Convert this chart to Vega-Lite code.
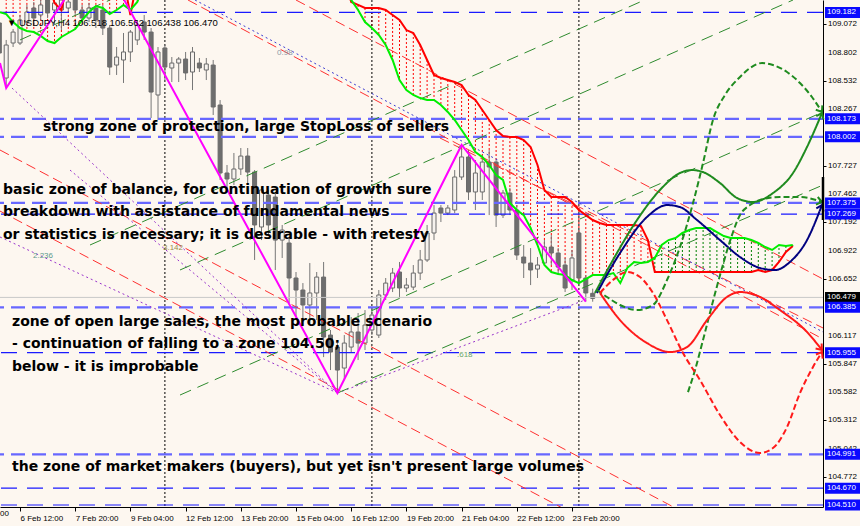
{
"$schema": "https://vega.github.io/schema/vega-lite/v6.json",
"width": 823, "height": 507,
"autosize": {"type": "none"},
"padding": {"left": 0, "top": 0, "right": 37, "bottom": 19},
"background": "#fdf7f0",
"config": {"view": {"stroke": null}, "axis": {"grid": false, "labelOverlap": false, "labelSeparation": 0}, "scale": {"continuousPadding": 0}},
"resolve": {"scale": {"color": "independent", "strokeDash": "independent"}},
"datasets": {
"candles": [
{"i":-3,"o":109.082,"h":109.158,"l":108.731,"c":108.797},
{"i":-2,"o":108.560,"h":108.921,"l":108.465,"c":108.873},
{"i":-1,"o":108.892,"h":109.025,"l":108.854,"c":108.996},
{"i":0,"o":108.892,"h":109.158,"l":108.873,"c":109.110},
{"i":1,"o":109.091,"h":109.253,"l":109.063,"c":109.186},
{"i":2,"o":109.224,"h":109.281,"l":109.063,"c":109.129},
{"i":3,"o":109.158,"h":109.300,"l":109.110,"c":109.253},
{"i":4,"o":109.300,"h":109.347,"l":109.129,"c":109.177},
{"i":5,"o":109.205,"h":109.300,"l":109.063,"c":109.272},
{"i":6,"o":109.205,"h":109.330,"l":109.015,"c":109.300},
{"i":7,"o":109.224,"h":109.300,"l":109.186,"c":109.281},
{"i":8,"o":109.347,"h":109.375,"l":109.158,"c":109.205},
{"i":9,"o":109.205,"h":109.253,"l":109.063,"c":109.129},
{"i":10,"o":109.129,"h":109.272,"l":109.091,"c":109.224},
{"i":11,"o":109.224,"h":109.253,"l":109.034,"c":109.110},
{"i":12,"o":109.205,"h":109.253,"l":108.968,"c":109.034},
{"i":13,"o":109.034,"h":109.063,"l":108.589,"c":108.664},
{"i":14,"o":108.683,"h":108.854,"l":108.589,"c":108.759},
{"i":15,"o":108.731,"h":108.987,"l":108.513,"c":108.807},
{"i":16,"o":108.807,"h":109.015,"l":108.712,"c":108.996},
{"i":17,"o":108.921,"h":109.110,"l":108.873,"c":109.063},
{"i":18,"o":109.091,"h":109.158,"l":108.921,"c":108.996},
{"i":19,"o":108.996,"h":109.034,"l":108.181,"c":108.427},
{"i":20,"o":108.399,"h":108.854,"l":108.162,"c":108.807},
{"i":21,"o":108.845,"h":108.873,"l":108.541,"c":108.664},
{"i":22,"o":108.655,"h":108.759,"l":108.522,"c":108.702},
{"i":23,"o":108.702,"h":108.759,"l":108.522,"c":108.740},
{"i":24,"o":108.740,"h":108.807,"l":108.541,"c":108.608},
{"i":25,"o":108.617,"h":108.854,"l":108.446,"c":108.807},
{"i":26,"o":108.702,"h":108.750,"l":108.617,"c":108.655},
{"i":27,"o":108.636,"h":108.750,"l":108.541,"c":108.693},
{"i":28,"o":108.683,"h":108.731,"l":108.209,"c":108.285},
{"i":29,"o":108.304,"h":108.351,"l":107.593,"c":107.659},
{"i":30,"o":107.659,"h":107.735,"l":107.498,"c":107.602},
{"i":31,"o":107.602,"h":107.849,"l":107.545,"c":107.697},
{"i":32,"o":107.697,"h":107.896,"l":107.640,"c":107.820},
{"i":33,"o":107.820,"h":107.896,"l":107.545,"c":107.668},
{"i":34,"o":107.668,"h":107.687,"l":106.834,"c":107.166},
{"i":35,"o":107.147,"h":107.526,"l":107.023,"c":107.498},
{"i":36,"o":107.450,"h":107.498,"l":107.071,"c":107.166},
{"i":37,"o":107.431,"h":107.479,"l":106.739,"c":107.023},
{"i":38,"o":107.023,"h":107.166,"l":106.853,"c":107.118},
{"i":39,"o":106.995,"h":107.042,"l":106.426,"c":106.663},
{"i":40,"o":106.663,"h":106.720,"l":106.302,"c":106.549},
{"i":41,"o":106.549,"h":106.615,"l":106.264,"c":106.407},
{"i":42,"o":106.407,"h":106.805,"l":106.236,"c":106.521},
{"i":43,"o":106.521,"h":106.720,"l":106.264,"c":106.672},
{"i":44,"o":106.672,"h":106.815,"l":105.913,"c":106.103},
{"i":45,"o":106.122,"h":106.170,"l":105.790,"c":105.961},
{"i":46,"o":106.008,"h":106.046,"l":105.572,"c":105.790},
{"i":47,"o":105.809,"h":106.122,"l":105.695,"c":106.046},
{"i":48,"o":106.008,"h":106.293,"l":105.961,"c":106.151},
{"i":49,"o":106.151,"h":106.331,"l":105.885,"c":106.046},
{"i":50,"o":106.046,"h":106.359,"l":105.980,"c":106.217},
{"i":51,"o":106.170,"h":106.378,"l":106.122,"c":106.312},
{"i":52,"o":106.122,"h":106.549,"l":106.094,"c":106.502},
{"i":53,"o":106.502,"h":106.663,"l":106.454,"c":106.615},
{"i":54,"o":106.568,"h":106.758,"l":106.530,"c":106.710},
{"i":55,"o":106.720,"h":106.815,"l":106.473,"c":106.568},
{"i":56,"o":106.568,"h":106.663,"l":106.530,"c":106.596},
{"i":57,"o":106.577,"h":106.786,"l":106.549,"c":106.710},
{"i":58,"o":106.710,"h":106.929,"l":106.644,"c":106.834},
{"i":59,"o":106.834,"h":107.166,"l":106.815,"c":107.090},
{"i":60,"o":107.090,"h":107.355,"l":107.023,"c":107.279},
{"i":61,"o":107.327,"h":107.355,"l":107.194,"c":107.279},
{"i":62,"o":107.279,"h":107.355,"l":107.260,"c":107.327},
{"i":63,"o":107.308,"h":107.687,"l":107.279,"c":107.621},
{"i":64,"o":107.621,"h":107.925,"l":107.593,"c":107.811},
{"i":65,"o":107.811,"h":107.877,"l":107.403,"c":107.479},
{"i":66,"o":107.479,"h":107.782,"l":107.308,"c":107.659},
{"i":67,"o":107.479,"h":107.830,"l":107.403,"c":107.763},
{"i":68,"o":107.763,"h":107.877,"l":107.260,"c":107.716},
{"i":69,"o":107.763,"h":107.782,"l":107.147,"c":107.260},
{"i":70,"o":107.260,"h":107.498,"l":107.232,"c":107.469},
{"i":71,"o":107.469,"h":107.517,"l":107.260,"c":107.308},
{"i":72,"o":107.308,"h":107.355,"l":106.834,"c":106.881},
{"i":73,"o":106.862,"h":106.976,"l":106.663,"c":106.805},
{"i":74,"o":106.805,"h":106.947,"l":106.596,"c":106.739},
{"i":75,"o":106.748,"h":106.862,"l":106.663,"c":106.786},
{"i":76,"o":106.805,"h":107.023,"l":106.786,"c":106.957},
{"i":77,"o":106.957,"h":107.071,"l":106.786,"c":106.900},
{"i":78,"o":106.900,"h":106.947,"l":106.691,"c":106.767},
{"i":79,"o":106.786,"h":106.853,"l":106.530,"c":106.568},
{"i":80,"o":106.644,"h":106.929,"l":106.549,"c":106.853},
{"i":81,"o":107.090,"h":107.118,"l":106.625,"c":106.663},
{"i":82,"o":106.663,"h":106.691,"l":106.440,"c":106.521},
{"i":83,"o":106.518,"h":106.562,"l":106.438,"c":106.470}
],
"cloud": [
{"i":-3,"red":109.5,"green":109.186},
{"i":-2,"red":109.5,"green":109.167},
{"i":-1,"red":109.5,"green":109.091},
{"i":0,"red":109.5,"green":109.034},
{"i":1,"red":109.5,"green":109.006},
{"i":2,"red":109.5,"green":108.996},
{"i":3,"red":109.5,"green":108.959},
{"i":4,"red":109.5,"green":108.911},
{"i":5,"red":109.272,"green":108.892},
{"i":6,"red":109.205,"green":108.949},
{"i":7,"red":109.5,"green":108.987},
{"i":8,"red":109.5,"green":109.025},
{"i":9,"red":109.5,"green":109.110},
{"i":10,"red":109.5,"green":109.186},
{"i":11,"red":109.5,"green":109.243},
{"i":12,"red":109.5,"green":109.224},
{"i":13,"red":109.5,"green":109.167},
{"i":14,"red":109.5,"green":109.205},
{"i":15,"red":109.5,"green":109.253},
{"i":16,"red":109.158,"green":109.205},
{"i":17,"red":109.5,"green":109.281},
{"i":18,"red":109.5,"green":109.45},
{"i":47,"red":109.5,"green":109.45},
{"i":48,"red":109.281,"green":109.3},
{"i":49,"red":109.253,"green":109.205},
{"i":50,"red":109.224,"green":109.091},
{"i":51,"red":109.224,"green":109.034},
{"i":52,"red":109.224,"green":108.968},
{"i":53,"red":109.205,"green":108.873},
{"i":54,"red":109.158,"green":108.731},
{"i":55,"red":109.110,"green":108.541},
{"i":56,"red":109.015,"green":108.446},
{"i":57,"red":108.987,"green":108.399},
{"i":58,"red":108.873,"green":108.370},
{"i":59,"red":108.731,"green":108.351},
{"i":60,"red":108.589,"green":108.351},
{"i":61,"red":108.560,"green":108.304},
{"i":62,"red":108.541,"green":108.238},
{"i":63,"red":108.522,"green":108.162},
{"i":64,"red":108.494,"green":108.067},
{"i":65,"red":108.399,"green":107.972},
{"i":66,"red":108.351,"green":107.858},
{"i":67,"red":108.257,"green":107.811},
{"i":68,"red":108.162,"green":107.735},
{"i":69,"red":108.067,"green":107.640},
{"i":70,"red":108.010,"green":107.593},
{"i":71,"red":108.000,"green":107.374},
{"i":72,"red":108.000,"green":107.308},
{"i":73,"red":107.972,"green":107.260},
{"i":74,"red":107.906,"green":107.137},
{"i":75,"red":107.735,"green":106.976},
{"i":76,"red":107.498,"green":106.786},
{"i":77,"red":107.431,"green":106.720},
{"i":78,"red":107.431,"green":106.701},
{"i":79,"red":107.431,"green":106.691},
{"i":80,"red":107.384,"green":106.644},
{"i":81,"red":107.308,"green":106.615},
{"i":82,"red":107.260,"green":106.653},
{"i":83,"red":107.213,"green":106.691},
{"i":84,"red":107.185,"green":106.691},
{"i":85,"red":107.166,"green":106.691},
{"i":86,"red":107.166,"green":106.710},
{"i":87,"red":107.166,"green":106.615},
{"i":88,"red":107.166,"green":106.758},
{"i":89,"red":107.166,"green":106.815},
{"i":90,"red":107.156,"green":106.805},
{"i":91,"red":107.023,"green":106.815},
{"i":92,"red":106.720,"green":106.853},
{"i":93,"red":106.720,"green":106.976},
{"i":94,"red":106.720,"green":107.023},
{"i":95,"red":106.720,"green":107.042},
{"i":96,"red":106.720,"green":107.090},
{"i":97,"red":106.720,"green":107.118},
{"i":98,"red":106.720,"green":107.137},
{"i":99,"red":106.720,"green":107.137},
{"i":100,"red":106.720,"green":107.137},
{"i":101,"red":106.720,"green":107.099},
{"i":102,"red":106.720,"green":107.061},
{"i":103,"red":106.720,"green":107.042},
{"i":104,"red":106.720,"green":107.042},
{"i":105,"red":106.720,"green":107.042},
{"i":106,"red":106.720,"green":107.023},
{"i":107,"red":106.739,"green":106.995},
{"i":108,"red":106.720,"green":106.957},
{"i":109,"red":106.739,"green":106.929},
{"i":110,"red":106.815,"green":106.976},
{"i":111,"red":106.910,"green":106.967},
{"i":112,"red":106.967,"green":106.976}
],
"levels": [
{"p":109.182,"kind":"dark"},{"p":108.173,"kind":"light"},{"p":108.002,"kind":"light"},
{"p":107.375,"kind":"light"},{"p":107.269,"kind":"dark"},{"p":106.385,"kind":"light"},
{"p":105.955,"kind":"dark"},{"p":104.991,"kind":"light"},{"p":104.670,"kind":"dark"},{"p":104.510,"kind":"dark"}
],
"ylabels": [
{"p":109.072},{"p":108.802},{"p":108.532},{"p":108.267},{"p":107.727},{"p":107.462},{"p":107.192},{"p":106.922},
{"p":106.652},{"p":106.117},{"p":105.847},{"p":105.582},{"p":105.312},{"p":105.042},{"p":104.772}
],
"seps": [{"i":21},{"i":51},{"i":81}],
"channels": [
{"line":"R1","kind":"red","i":24.348,"p":109.300},{"line":"R1","kind":"red","i":116.377,"p":106.084},
{"line":"R2","kind":"red","i":40.0,"p":109.300},{"line":"R2","kind":"red","i":116.377,"p":106.653},
{"line":"R3","kind":"red","i":-2.899,"p":107.877},{"line":"R3","kind":"red","i":96.087,"p":104.443},
{"line":"R4","kind":"red","i":-2.899,"p":107.298},{"line":"R4","kind":"red","i":79.71,"p":104.443},
{"line":"R5","kind":"red","i":60.87,"p":107.991},{"line":"R5","kind":"red","i":116.377,"p":106.189},
{"line":"B1","kind":"blue","i":25.36,"p":109.300},{"line":"B1","kind":"blue","i":116.377,"p":106.151},
{"line":"P1","kind":"purple","i":-1.16,"p":108.465},{"line":"P1","kind":"purple","i":46.0,"p":105.572},
{"line":"P2","kind":"purple","i":-2.899,"p":107.052},{"line":"P2","kind":"purple","i":46.0,"p":105.572},
{"line":"P3","kind":"purple","i":7.246,"p":107.687},{"line":"P3","kind":"purple","i":46.0,"p":105.572},
{"line":"P5","kind":"purple","i":46.0,"p":105.572},{"line":"P5","kind":"purple","i":81.88,"p":106.454},
{"line":"Ga","kind":"green","i":23.19,"p":106.739},{"line":"Ga","kind":"green","i":112.03,"p":109.300},
{"line":"Gb","kind":"green","i":23.19,"p":105.553},{"line":"Gb","kind":"green","i":116.377,"p":108.238},
{"line":"Gc","kind":"green","i":46.0,"p":105.572},{"line":"Gc","kind":"green","i":116.377,"p":107.545},
{"line":"Ge","kind":"green","i":10.145,"p":106.976},{"line":"Ge","kind":"green","i":89.855,"p":109.281},
{"line":"Gf","kind":"green","i":0,"p":108.921},{"line":"Gf","kind":"green","i":13.04,"p":109.300}
],
"zigzag": [
{"i":-2.899,"p":108.702},{"i":-2,"p":108.465},{"i":7.536,"p":109.414},{"i":14.638,"p":109.357},
{"i":46,"p":105.572},{"i":64,"p":107.925},{"i":82,"p":106.438}
],
"curves": [
{"curve":"GS","i":83.33,"p":106.521},{"curve":"GS","i":85.94,"p":106.834},{"curve":"GS","i":89.42,"p":107.213},{"curve":"GS","i":92.75,"p":107.498},{"curve":"GS","i":95.65,"p":107.659},{"curve":"GS","i":97.39,"p":107.687},{"curve":"GS","i":98.99,"p":107.668},{"curve":"GS","i":101.45,"p":107.564},{"curve":"GS","i":103.91,"p":107.422},{"curve":"GS","i":106.23,"p":107.384},{"curve":"GS","i":109.13,"p":107.469},{"curve":"GS","i":112.03,"p":107.659},{"curve":"GS","i":114.06,"p":107.906},{"curve":"GS","i":116.23,"p":108.228},
{"curve":"NV","i":83.62,"p":106.521},{"curve":"NV","i":86.96,"p":106.900},{"curve":"NV","i":90.87,"p":107.242},{"curve":"NV","i":93.77,"p":107.355},{"curve":"NV","i":95.65,"p":107.336},{"curve":"NV","i":98.12,"p":107.213},{"curve":"NV","i":101.45,"p":107.023},{"curve":"NV","i":104.35,"p":106.862},{"curve":"NV","i":107.25,"p":106.758},{"curve":"NV","i":109.42,"p":106.739},{"curve":"NV","i":111.59,"p":106.815},{"curve":"NV","i":114.06,"p":107.023},{"curve":"NV","i":116.23,"p":107.355},
{"curve":"GDa","i":83.62,"p":106.549},{"curve":"GDa","i":85.07,"p":106.483},{"curve":"GDa","i":86.96,"p":106.407},{"curve":"GDa","i":89.42,"p":106.359},{"curve":"GDa","i":91.74,"p":106.407},{"curve":"GDa","i":93.77,"p":106.644},{"curve":"GDa","i":95.65,"p":106.957},{"curve":"GDa","i":97.54,"p":107.374},{"curve":"GDa","i":98.99,"p":107.754},{"curve":"GDa","i":100.43,"p":108.162},{"curve":"GDa","i":102.17,"p":108.399},{"curve":"GDa","i":104.35,"p":108.570},{"curve":"GDa","i":105.80,"p":108.655},{"curve":"GDa","i":107.54,"p":108.702},{"curve":"GDa","i":109.13,"p":108.683},{"curve":"GDa","i":111.16,"p":108.617},{"curve":"GDa","i":113.04,"p":108.513},{"curve":"GDa","i":114.78,"p":108.380},{"curve":"GDa","i":116.23,"p":108.238},
{"curve":"GDb","i":96.81,"p":105.581},{"curve":"GDb","i":97.83,"p":105.790},{"curve":"GDb","i":98.99,"p":106.075},{"curve":"GDb","i":100.29,"p":106.407},{"curve":"GDb","i":101.74,"p":106.758},{"curve":"GDb","i":103.04,"p":107.042},{"curve":"GDb","i":104.35,"p":107.260},{"curve":"GDb","i":105.80,"p":107.355},{"curve":"GDb","i":107.25,"p":107.403},{"curve":"GDb","i":110.14,"p":107.431},{"curve":"GDb","i":113.04,"p":107.431},{"curve":"GDb","i":116.23,"p":107.384},
{"curve":"RS","i":84.06,"p":106.521},{"curve":"RS","i":86.96,"p":106.264},{"curve":"RS","i":90.87,"p":106.046},{"curve":"RS","i":94.20,"p":105.961},{"curve":"RS","i":96.67,"p":106.008},{"curve":"RS","i":99.57,"p":106.264},{"curve":"RS","i":102.46,"p":106.483},{"curve":"RS","i":104.35,"p":106.530},{"curve":"RS","i":107.25,"p":106.483},{"curve":"RS","i":110.14,"p":106.359},{"curve":"RS","i":114.06,"p":106.151},{"curve":"RS","i":116.23,"p":105.980},
{"curve":"RD","i":84.06,"p":106.521},{"curve":"RD","i":85.94,"p":106.644},{"curve":"RD","i":87.97,"p":106.720},{"curve":"RD","i":89.86,"p":106.672},{"curve":"RD","i":91.74,"p":106.521},{"curve":"RD","i":93.77,"p":106.264},{"curve":"RD","i":96.09,"p":105.951},{"curve":"RD","i":98.55,"p":105.695},{"curve":"RD","i":101.45,"p":105.363},{"curve":"RD","i":104.35,"p":105.107},{"curve":"RD","i":107.25,"p":105.003},{"curve":"RD","i":109.13,"p":105.050},{"curve":"RD","i":111.16,"p":105.249},{"curve":"RD","i":113.04,"p":105.572},{"curve":"RD","i":114.93,"p":105.819},{"curve":"RD","i":116.23,"p":105.961}
],
"arrows": [
{"curve":"GS","i":116.23,"p":108.228,"angle":-66},
{"curve":"GDa","i":116.23,"p":108.238,"angle":56},
{"curve":"GDb","i":116.23,"p":107.384,"angle":13},
{"curve":"NV","i":116.23,"p":107.355,"angle":-67},
{"curve":"RS","i":116.23,"p":105.980,"angle":50},
{"curve":"RD","i":116.23,"p":105.961,"angle":-59}
],
"notes": [
{"i":3.333,"p":108.095,"text":"strong zone of protection, large StopLoss of sellers"},
{"i":-2.464,"p":107.498,"text":"basic zone of balance, for continuation of growth sure"},
{"i":-2.464,"p":107.289,"text":"breakdown with assistance of fundamental news"},
{"i":-2.464,"p":107.071,"text":"or statistics is necessary; it is desirable - with retesty"},
{"i":-1.159,"p":106.246,"text":"zone of open large sales, the most probable scenario"},
{"i":-1.159,"p":106.037,"text":"- continuation of falling to a zone 104.50;"},
{"i":-1.159,"p":105.819,"text":"below - it is improbable"},
{"i":-1.159,"p":104.870,"text":"the zone of market makers (buyers), but yet isn't present large volumes"}
],
"fibs": [
{"i":1.88,"p":106.872,"text":"2.236"},{"i":20.72,"p":106.947,"text":"3.142"},
{"i":37.25,"p":108.797,"text":"0.98"},{"i":63.33,"p":105.932,"text":".618"}
],
"tags": [
{"p":109.182,"label":"109.182","kind":"level"},{"p":108.173,"label":"108.173","kind":"level"},
{"p":108.002,"label":"108.002","kind":"level"},{"p":107.375,"label":"107.375","kind":"level"},
{"p":107.269,"label":"107.269","kind":"level"},{"p":106.479,"label":"106.479","kind":"price"},
{"p":106.385,"label":"106.385","kind":"level"},{"p":105.955,"label":"105.955","kind":"level"},
{"p":104.991,"label":"104.991","kind":"level"},{"p":104.670,"label":"104.670","kind":"level"},
{"p":104.510,"label":"104.510","kind":"level"}
]
},
"layer": [
{"data": {"name": "cloud"},
 "mark": {"type": "rule", "strokeDash": [2, 2], "strokeWidth": 1, "clip": true},
 "encoding": {
  "x": {"field": "i", "type": "quantitative", "scale": {"domain": [-2.899, 116.377], "nice": false, "zero": false, "padding": 0},
   "axis": {"values": [-8,0,8,16,24,32,40,48,56,64,72,80],
    "labelExpr": "['5 Feb 04:00','6 Feb 12:00','7 Feb 20:00','9 Feb 04:00','12 Feb 12:00','13 Feb 20:00','15 Feb 04:00','16 Feb 12:00','19 Feb 20:00','21 Feb 04:00','22 Feb 12:00','23 Feb 20:00'][round(datum.value/8)+1]",
    "title": null, "labelAlign": "left", "labelBaseline": "top", "labelPadding": 3, "labelDx": 2,
    "labelFont": "Liberation Sans", "labelFontSize": 8, "labelColor": "#000000",
    "tickColor": "#000000", "tickSize": 4, "domainColor": "#000000", "labelOverlap": false, "labelFlush": false}},
  "y": {"field": "red", "type": "quantitative", "scale": {"domain": [104.491, 109.300], "nice": false, "zero": false, "padding": 0},
   "axis": {"orient": "right", "values": [109.072,108.802,108.532,108.267,107.727,107.462,107.192,106.922,106.652,106.117,105.847,105.582,105.312,105.042,104.772],
    "labels": false, "title": null, "tickColor": "#000000", "tickSize": 3, "domainColor": "#000000"}},
  "y2": {"field": "green"},
  "color": {"condition": {"test": "datum.red > datum.green", "value": "#ff0000"}, "value": "#008000"}
 }},
{"data": {"name": "seps"},
 "mark": {"type": "rule", "strokeDash": [2, 2], "color": "#000000", "strokeWidth": 1, "clip": true},
 "encoding": {"x": {"field": "i", "type": "quantitative", "scale": {"domain": [-2.899, 116.377], "nice": false, "zero": false, "padding": 0}}}},
{"data": {"name": "candles"},
 "mark": {"type": "rule", "color": "#777777", "strokeWidth": 1, "clip": true},
 "encoding": {
  "x": {"field": "i", "type": "quantitative", "scale": {"domain": [-2.899, 116.377], "nice": false, "zero": false, "padding": 0}},
  "y": {"field": "l", "type": "quantitative", "scale": {"domain": [104.491, 109.300], "nice": false, "zero": false, "padding": 0}},
  "y2": {"field": "h"}}},
{"data": {"name": "candles"},
 "mark": {"type": "bar", "size": 4, "stroke": "#6a6a6a", "strokeWidth": 1, "clip": true},
 "encoding": {
  "x": {"field": "i", "type": "quantitative", "scale": {"domain": [-2.899, 116.377], "nice": false, "zero": false, "padding": 0}},
  "y": {"field": "o", "type": "quantitative", "scale": {"domain": [104.491, 109.300], "nice": false, "zero": false, "padding": 0}},
  "y2": {"field": "c"},
  "fill": {"condition": {"test": "datum.c >= datum.o", "value": "#f6f2ee"}, "value": "#6e6e6e"}}},
{"data": {"values": [{}]},
 "mark": {"type": "rule", "color": "#c8c8c8", "strokeWidth": 1, "clip": true},
 "encoding": {"y": {"datum": 106.479, "type": "quantitative", "scale": {"domain": [104.491, 109.300], "nice": false, "zero": false, "padding": 0}}}},
{"data": {"name": "levels"},
 "transform": [{"filter": "datum.kind == 'light'"}],
 "mark": {"type": "rule", "color": "#6767ff", "strokeWidth": 2.2, "strokeDash": [14, 7], "clip": true},
 "encoding": {"y": {"field": "p", "type": "quantitative", "scale": {"domain": [104.491, 109.300], "nice": false, "zero": false, "padding": 0}}}},
{"data": {"name": "levels"},
 "transform": [{"filter": "datum.kind == 'dark'"}],
 "mark": {"type": "rule", "color": "#1a1aff", "strokeWidth": 1.2, "strokeDash": [16, 10], "clip": true},
 "encoding": {"y": {"field": "p", "type": "quantitative", "scale": {"domain": [104.491, 109.300], "nice": false, "zero": false, "padding": 0}}}},
{"data": {"name": "channels"},
 "mark": {"type": "line", "strokeWidth": 1, "clip": true},
 "encoding": {
  "x": {"field": "i", "type": "quantitative", "scale": {"domain": [-2.899, 116.377], "nice": false, "zero": false, "padding": 0}},
  "y": {"field": "p", "type": "quantitative", "scale": {"domain": [104.491, 109.300], "nice": false, "zero": false, "padding": 0}},
  "detail": {"field": "line"},
  "color": {"field": "kind", "type": "nominal", "scale": {"domain": ["red","blue","purple","green"], "range": ["#ff3030","#3a3ad0","#9933cc","#2e8b2e"]}, "legend": null},
  "strokeDash": {"field": "kind", "type": "nominal", "scale": {"domain": ["red","blue","purple","green"], "range": [[10,5],[2,3],[2,3],[12,7]]}, "legend": null}}},
{"data": {"name": "cloud"},
 "mark": {"type": "line", "color": "#ff0000", "strokeWidth": 2, "clip": true},
 "encoding": {
  "x": {"field": "i", "type": "quantitative", "scale": {"domain": [-2.899, 116.377], "nice": false, "zero": false, "padding": 0}},
  "y": {"field": "red", "type": "quantitative", "scale": {"domain": [104.491, 109.300], "nice": false, "zero": false, "padding": 0}}}},
{"data": {"name": "cloud"},
 "mark": {"type": "line", "color": "#00ee00", "strokeWidth": 2, "clip": true},
 "encoding": {
  "x": {"field": "i", "type": "quantitative", "scale": {"domain": [-2.899, 116.377], "nice": false, "zero": false, "padding": 0}},
  "y": {"field": "green", "type": "quantitative", "scale": {"domain": [104.491, 109.300], "nice": false, "zero": false, "padding": 0}}}},
{"data": {"name": "zigzag"},
 "mark": {"type": "line", "color": "#ff00ff", "strokeWidth": 2, "clip": true},
 "encoding": {
  "x": {"field": "i", "type": "quantitative", "scale": {"domain": [-2.899, 116.377], "nice": false, "zero": false, "padding": 0}},
  "y": {"field": "p", "type": "quantitative", "scale": {"domain": [104.491, 109.300], "nice": false, "zero": false, "padding": 0}}}},
{"data": {"name": "curves"},
 "mark": {"type": "line", "strokeWidth": 2, "interpolate": "monotone", "clip": true},
 "encoding": {
  "x": {"field": "i", "type": "quantitative", "scale": {"domain": [-2.899, 116.377], "nice": false, "zero": false, "padding": 0}},
  "y": {"field": "p", "type": "quantitative", "scale": {"domain": [104.491, 109.300], "nice": false, "zero": false, "padding": 0}},
  "color": {"field": "curve", "type": "nominal", "scale": {"domain": ["GS","GDa","GDb","NV","RS","RD"], "range": ["#1f8b1f","#1f8b1f","#1f8b1f","#00007f","#ff1a1a","#ff1a1a"]}, "legend": null},
  "strokeDash": {"field": "curve", "type": "nominal", "scale": {"domain": ["GS","GDa","GDb","NV","RS","RD"], "range": [[1,0],[6,3],[6,3],[1,0],[1,0],[6,3]]}, "legend": null}}},
{"data": {"name": "arrows"},
 "mark": {"type": "point", "shape": "M-1,-0.75L0,0L-1,0.75", "filled": false, "size": 110, "strokeWidth": 2, "opacity": 1, "clip": false},
 "encoding": {
  "x": {"field": "i", "type": "quantitative", "scale": {"domain": [-2.899, 116.377], "nice": false, "zero": false, "padding": 0}},
  "y": {"field": "p", "type": "quantitative", "scale": {"domain": [104.491, 109.300], "nice": false, "zero": false, "padding": 0}},
  "angle": {"field": "angle", "type": "quantitative", "scale": null},
  "color": {"field": "curve", "type": "nominal", "scale": {"domain": ["GS","GDa","GDb","NV","RS","RD"], "range": ["#1f8b1f","#1f8b1f","#1f8b1f","#00007f","#ff1a1a","#ff1a1a"]}, "legend": null}}},
{"data": {"name": "notes"},
 "mark": {"type": "text", "align": "left", "baseline": "middle", "font": "DejaVu Sans", "fontWeight": "bold", "fontSize": 14, "color": "#000000"},
 "encoding": {
  "x": {"field": "i", "type": "quantitative", "scale": {"domain": [-2.899, 116.377], "nice": false, "zero": false, "padding": 0}},
  "y": {"field": "p", "type": "quantitative", "scale": {"domain": [104.491, 109.300], "nice": false, "zero": false, "padding": 0}},
  "text": {"field": "text"}}},
{"data": {"name": "fibs"},
 "mark": {"type": "text", "align": "left", "baseline": "middle", "font": "Liberation Sans", "fontSize": 8},
 "encoding": {
  "x": {"field": "i", "type": "quantitative", "scale": {"domain": [-2.899, 116.377], "nice": false, "zero": false, "padding": 0}},
  "y": {"field": "p", "type": "quantitative", "scale": {"domain": [104.491, 109.300], "nice": false, "zero": false, "padding": 0}},
  "text": {"field": "text"},
  "color": {"field": "text", "type": "nominal", "scale": {"domain": ["2.236","3.142","0.98",".618"], "range": ["#5e9a8c","#9a8c4a","#8c9aa8","#6aa86a"]}, "legend": null}}},
{"data": {"values": [{}]},
 "mark": {"type": "text", "align": "left", "baseline": "middle", "font": "Liberation Sans", "fontSize": 9.5, "color": "#000000"},
 "encoding": {
  "x": {"datum": -1.9, "type": "quantitative", "scale": {"domain": [-2.899, 116.377], "nice": false, "zero": false, "padding": 0}},
  "y": {"datum": 109.082, "type": "quantitative", "scale": {"domain": [104.491, 109.300], "nice": false, "zero": false, "padding": 0}},
  "text": {"value": "▼ USDJPY,H4  106.518 106.562 106.438 106.470"}}},
{"data": {"values": [{}]},
 "mark": {"type": "text", "align": "left", "baseline": "top", "dy": 3, "font": "Liberation Sans", "fontSize": 8, "color": "#000000", "clip": false},
 "encoding": {
  "x": {"datum": -2.899, "type": "quantitative", "scale": {"domain": [-2.899, 116.377], "nice": false, "zero": false, "padding": 0}},
  "y": {"datum": 104.491, "type": "quantitative", "scale": {"domain": [104.491, 109.300], "nice": false, "zero": false, "padding": 0}},
  "text": {"value": "00"}}},
{"data": {"name": "ylabels"},
 "mark": {"type": "text", "align": "left", "baseline": "middle", "dx": 5, "font": "Liberation Sans", "fontSize": 8, "color": "#000000", "clip": false},
 "encoding": {
  "x": {"datum": 116.377, "type": "quantitative", "scale": {"domain": [-2.899, 116.377], "nice": false, "zero": false, "padding": 0}},
  "y": {"field": "p", "type": "quantitative", "scale": {"domain": [104.491, 109.300], "nice": false, "zero": false, "padding": 0}},
  "text": {"field": "p", "type": "quantitative", "format": ".3f"}}},
{"data": {"values": [{}]},
 "mark": {"type": "rule", "color": "#000000", "strokeWidth": 2.5, "clip": false},
 "encoding": {
  "x": {"datum": 116.377, "type": "quantitative", "scale": {"domain": [-2.899, 116.377], "nice": false, "zero": false, "padding": 0}},
  "y": {"datum": 107.621, "type": "quantitative", "scale": {"domain": [104.491, 109.300], "nice": false, "zero": false, "padding": 0}},
  "y2": {"datum": 107.213}}},
{"data": {"name": "tags"},
 "mark": {"type": "bar", "size": 11, "clip": false},
 "encoding": {
  "x": {"datum": 116.67, "type": "quantitative", "scale": {"domain": [-2.899, 116.377], "nice": false, "zero": false, "padding": 0}},
  "x2": {"datum": 121.74},
  "y": {"field": "p", "type": "quantitative", "scale": {"domain": [104.491, 109.300], "nice": false, "zero": false, "padding": 0}},
  "color": {"field": "kind", "type": "nominal", "scale": {"domain": ["level","price"], "range": ["#0a0aff","#000000"]}, "legend": null}}},
{"data": {"name": "tags"},
 "mark": {"type": "text", "align": "left", "baseline": "middle", "dx": 2, "font": "Liberation Sans", "fontSize": 8, "color": "#ffffff", "clip": false},
 "encoding": {
  "x": {"datum": 116.67, "type": "quantitative", "scale": {"domain": [-2.899, 116.377], "nice": false, "zero": false, "padding": 0}},
  "y": {"field": "p", "type": "quantitative", "scale": {"domain": [104.491, 109.300], "nice": false, "zero": false, "padding": 0}},
  "text": {"field": "label"}}}
]
}
